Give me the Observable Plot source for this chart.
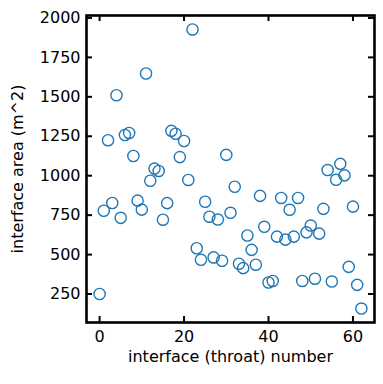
<!DOCTYPE html>
<html><head><meta charset="utf-8">
<script src="https://cdn.jsdelivr.net/npm/d3@7"></script>
<script src="https://cdn.jsdelivr.net/npm/@observablehq/plot@0.6"></script>
<style>html,body{margin:0;padding:0;background:#fff}</style>
</head><body><div id="chart"></div>
<script>
const throatNumber = [0,1,2,3,4,5,6,7,8,9,10,11,12,13,14,15,16,17,18,19,20,21,22,23,24,25,26,27,28,29,30,31,32,33,34,35,36,37,38,39,40,41,42,43,44,45,46,47,48,49,50,51,52,53,54,55,56,57,58,59,60,61,62];
const interfaceArea = [250,778,1225,827,1510,733,1258,1271,1125,842,785,1648,968,1045,1030,721,826,1284,1266,1118,1220,973,1927,540,467,835,740,482,722,461,1132,765,930,442,414,621,530,436,872,676,323,333,614,859,595,784,614,859,333,641,684,347,633,790,1036,329,974,1075,1002,422,804,308,158];
const xTicks = [0,20,40,60];
const yTicks = [250,500,750,1000,1250,1500,1750,2000];
const xLabel = "interface (throat) number";
const yLabel = "interface area (m^2)";

const data = throatNumber.map((n,i)=>({n, a: interfaceArea[i]}));
const W = 383, H = 384, mL = 86, mR = 9, mT = 15, mB = 62;
const fw = W - mL - mR, fh = H - mT - mB, tl = 6;

const chart = Plot.plot({
  width: W, height: H,
  marginLeft: mL, marginRight: mR, marginTop: mT, marginBottom: mB,
  x: {domain: [-3.1, 65.1]},
  y: {domain: [69.5, 2015.5]},
  style: {fontFamily: "DejaVu Sans", fontSize: "16px", color: "black", background: "white"},
  marks: [
    Plot.axisX(xTicks, {tickSize: 0, tickPadding: 8, label: null, fontSize: 16, tickFormat: d => String(d)}),
    Plot.axisY(yTicks, {tickSize: 0, tickPadding: 6, label: null, fontSize: 16, tickFormat: d => String(d)}),
    Plot.dot(data, {x: "n", y: "a", r: 5.6, stroke: "#1f77b4", fill: "none", strokeWidth: 1.4}),
    Plot.tickY(yTicks, {y: d => d, insetRight: fw - tl, strokeWidth: 2}),
    Plot.tickY(yTicks, {y: d => d, insetLeft: fw - tl, strokeWidth: 2}),
    Plot.tickX(xTicks, {x: d => d, insetTop: fh - tl, strokeWidth: 2}),
    Plot.tickX(xTicks, {x: d => d, insetBottom: fh - tl, strokeWidth: 2}),
    Plot.frame({strokeWidth: 2.6}),
    Plot.text([xLabel], {text: d => d, frameAnchor: "bottom", textAnchor: "middle", lineAnchor: "middle", dy: 34.5, fontSize: 16}),
    Plot.text([yLabel], {text: d => d, frameAnchor: "left", textAnchor: "middle", lineAnchor: "middle", rotate: -90, dx: -69, fontSize: 16})
  ]
});
document.getElementById("chart").appendChild(chart);
</script>
</body></html>
